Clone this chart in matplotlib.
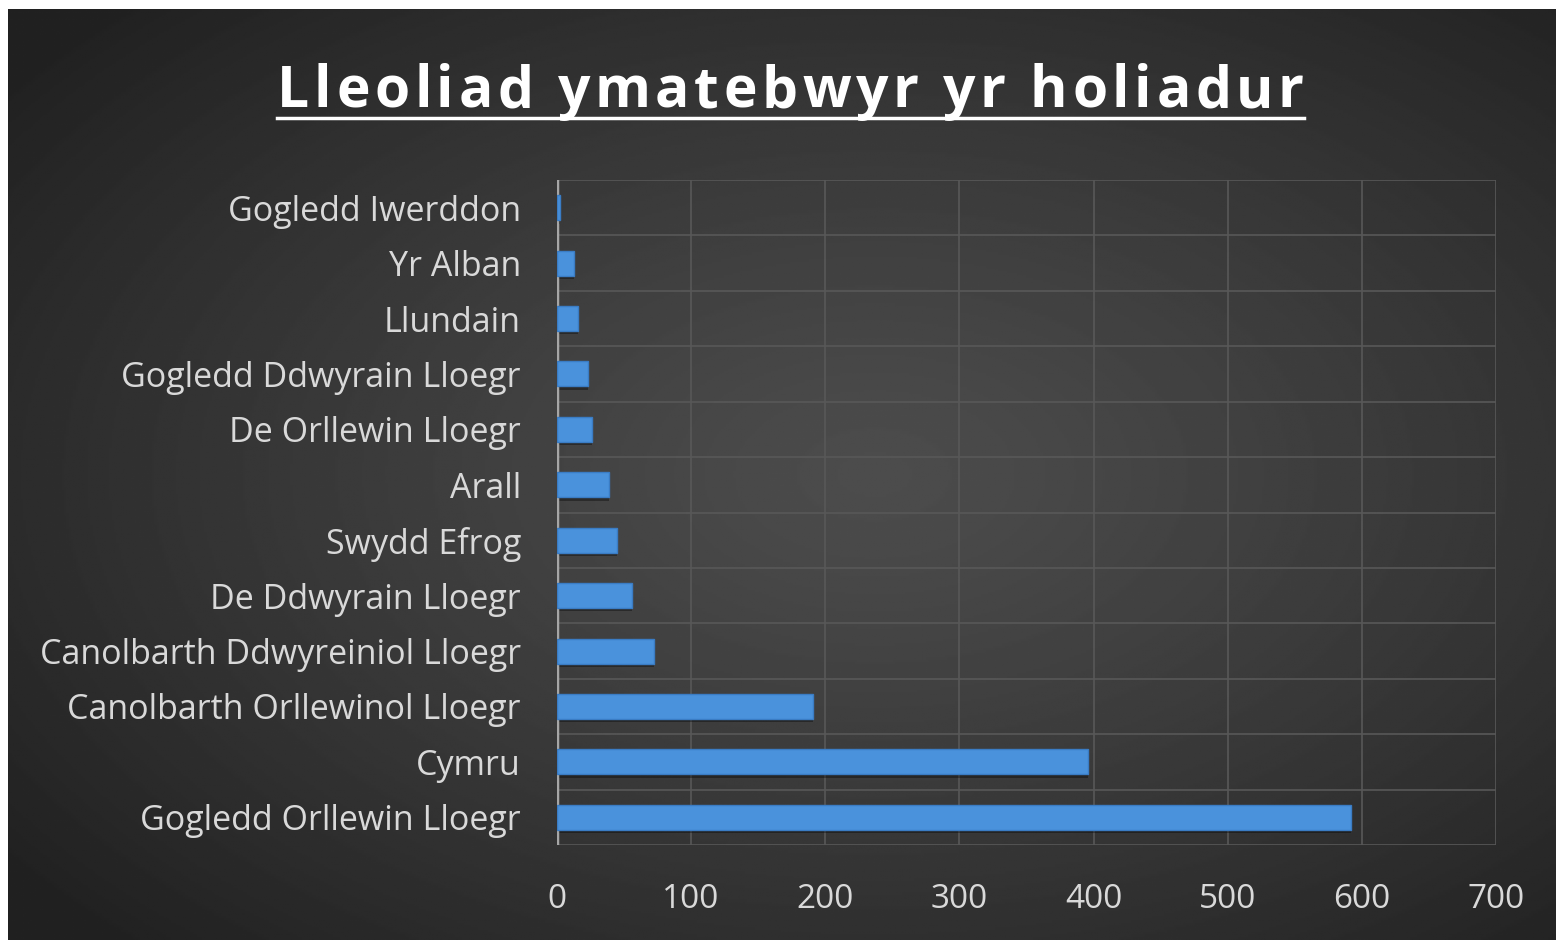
import numpy as np
import matplotlib.pyplot as plt
from matplotlib.lines import Line2D

# data (bottom to top)
regions = ['Gogledd Orllewin Lloegr', 'Cymru', 'Canolbarth Orllewinol Lloegr',
           'Canolbarth Ddwyreiniol Lloegr', 'De Ddwyrain Lloegr', 'Swydd Efrog',
           'Arall', 'De Orllewin Lloegr', 'Gogledd Ddwyrain Lloegr', 'Llundain',
           'Yr Alban', 'Gogledd Iwerddon']
counts = [592, 396, 191, 72, 56, 45, 39, 26, 23, 16, 13, 2]
xticks = [0, 100, 200, 300, 400, 500, 600, 700]
title = 'Lleoliad ymatebwyr yr holiadur'

plt.rcParams['font.family'] = ['Open Sans', 'DejaVu Sans']

W, H = 1560, 943
fig = plt.figure(figsize=(W / 100, H / 100), dpi=100)
fig.patch.set_facecolor('white')

# dark radial-gradient panel
bg = fig.add_axes([8 / W, 1 - 940 / H, (1556 - 8) / W, (940 - 9) / H])
yy, xx = np.mgrid[0:1:400j, 0:1:650j]
r = np.sqrt(((xx - 0.56) / 0.7) ** 2 + ((yy - 0.5) / 0.7) ** 2)
r = np.clip(r, 0, 1)
lo, hi = 0.13, 0.30
img = hi - (hi - lo) * r ** 1.2
bg.imshow(img, cmap='gray', vmin=0, vmax=1, aspect='auto', extent=[0, 1, 0, 1])
bg.set_axis_off()

ax = fig.add_axes([557 / W, 1 - 845 / H, (1496 - 557) / W, (845 - 180) / H])
ax.set_facecolor('none')
y = np.arange(len(regions))

# soft shadow
ax.barh(y - 0.06, counts, height=0.45, left=0, color='black', alpha=0.35, zorder=2)
ax.barh(y, counts, height=0.45, color='#4a92dc', edgecolor='#3a7cc4',
        linewidth=1, zorder=3)

ax.set_xlim(0, 700)
ax.set_ylim(-0.5, len(regions) - 0.5)
ax.set_xticks(xticks)
ax.set_yticks(y)
ax.set_yticklabels(regions)
ax.tick_params(axis='both', length=0, colors='#d9d9d9')
ax.tick_params(axis='y', pad=26, labelsize=24.5)
ax.tick_params(axis='x', pad=27, labelsize=24)

# gridlines: vertical at ticks, horizontal at category boundaries
for xv in xticks[1:]:
    ax.axvline(xv, color='#585858', lw=1.2, zorder=1)
for b in np.arange(-0.5, len(regions), 1):
    ax.axhline(b, color='#585858', lw=1.2, zorder=1)
for s in ax.spines.values():
    s.set_visible(False)
ax.axvline(0, color='#a6a6a6', lw=2.5, zorder=2.5)

# title with letter spacing, underlined
x0, x1, base = 277, 1304, 107
fs = 41
fig.canvas.draw()
r_ = fig.canvas.get_renderer()
widths = []
for ch in title:
    if ch == ' ':
        widths.append(0.26 * fs * 100 / 72)
        continue
    tt = fig.text(0, 0, ch, fontsize=fs, fontweight='bold')
    widths.append(tt.get_window_extent(r_).width)
    tt.remove()
track = (x1 - x0 - sum(widths)) / (len(title) - 1)
xc = x0
for ch, w in zip(title, widths):
    if ch != ' ':
        fig.text(xc / W, 1 - base / H, ch, fontsize=fs, fontweight='bold',
                 color='white', ha='left', va='baseline')
    xc += w + track
fig.add_artist(Line2D([x0 / W, x1 / W], [1 - 118 / H] * 2, color='white', lw=2.5,
                      transform=fig.transFigure))

fig.savefig('out.png', dpi=100, facecolor=fig.get_facecolor())
